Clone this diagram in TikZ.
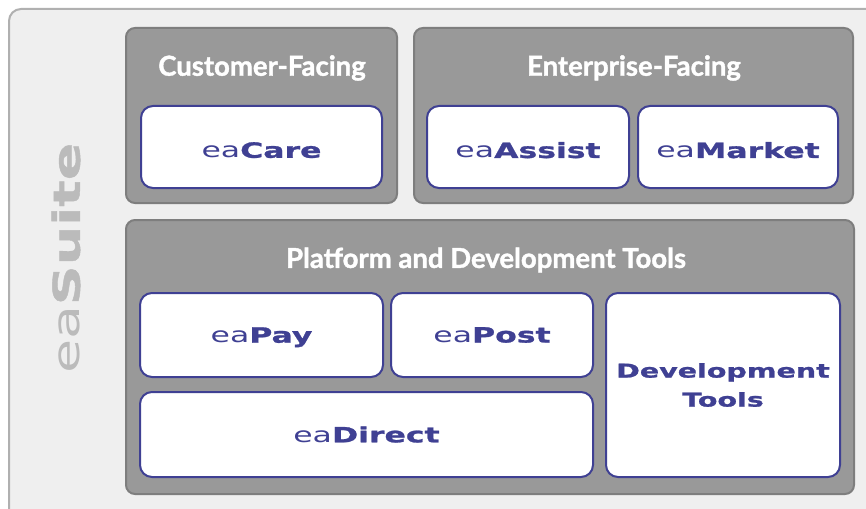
\documentclass[tikz,border=0pt]{standalone}
\usepackage{fontspec}
\setmainfont{Lato}
\newfontfamily\extfont[FakeStretch=1.5, BoldFeatures={FakeBold=1.2}]{DejaVu Sans}
\newfontfamily\titlefont[BoldFeatures={FakeBold=1.4}]{Lato}
\definecolor{outerfill}{HTML}{EFEFEF}
\definecolor{outerdraw}{HTML}{B0B0B0}
\definecolor{groupfill}{HTML}{999999}
\definecolor{groupdraw}{HTML}{7E7E7E}
\definecolor{navy}{HTML}{3F4093}
\definecolor{suitegray}{HTML}{BBBBBB}
\newcommand{\lowered}[1]{\raisebox{-3pt}[\height][0pt]{#1}}
\newcommand{\nodepth}[1]{\raisebox{0pt}[\height][0pt]{#1}}
\tikzset{
  groupbox/.style={draw=groupdraw, fill=groupfill, line width=2pt, rounded corners=9pt, inner sep=0pt},
  appbox/.style={draw=navy, fill=white, line width=2pt, rounded corners=12pt, inner sep=0pt, text=navy, align=center, font=\fontsize{21}{30}\selectfont\extfont},
  grouptitle/.style={text=white, font=\fontsize{27.5}{29}\selectfont\titlefont\bfseries, inner sep=0pt},
}
\begin{document}
\begin{tikzpicture}[x=1pt,y=-1pt]
\fill[white] (0,0) rectangle (866,508);
\useasboundingbox (0,0) rectangle (866,508);
\clip (0,0) rectangle (866,508);
\draw[draw=outerdraw, fill=outerfill, line width=2pt, rounded corners=12pt] (9,9) rectangle (900,540);
\node[rotate=90, text=suitegray, inner sep=0pt, font=\fontsize{37}{37}\selectfont\extfont] (suite) at (66,258) {ea\textbf{Suite}};
% groups
\node[groupbox, minimum width=271pt, minimum height=175pt] (cust) at (261.5,115.5) {};
\node[groupbox, minimum width=439pt, minimum height=175pt] (ent) at (633.5,115.5) {};
\node[groupbox, minimum width=728pt, minimum height=274pt] (plat) at (490,357) {};
\node[grouptitle] (custt) at (262,68) {Customer-Facing};
\node[grouptitle] (entt) at (634,68) {Enterprise-Facing};
\node[grouptitle] (platt) at (486,260) {Platform and Development Tools};
% apps
\node[appbox, minimum width=241pt, minimum height=82pt] (care) at (261.5,147) {\lowered{ea\textbf{Care}}};
\node[appbox, minimum width=202pt, minimum height=82pt] (assist) at (528,147) {\lowered{ea\textbf{Assist}}};
\node[appbox, minimum width=200pt, minimum height=82pt] (market) at (738,147) {\lowered{ea\textbf{Market}}};
\node[appbox, minimum width=243pt, minimum height=84pt] (pay) at (261.5,335) {\nodepth{ea\textbf{Pay}}};
\node[appbox, minimum width=202pt, minimum height=84pt] (post) at (492,335) {ea\textbf{Post}};
\node[appbox, minimum width=453pt, minimum height=85pt] (direct) at (366.5,434.5) {ea\textbf{Direct}};
\node[appbox, minimum width=234pt, minimum height=184pt, font=\fontsize{19}{30}\selectfont\extfont] (dev) at (723,385) {\textbf{Development}\\[-1pt]\textbf{Tools}};
\end{tikzpicture}
\end{document}
